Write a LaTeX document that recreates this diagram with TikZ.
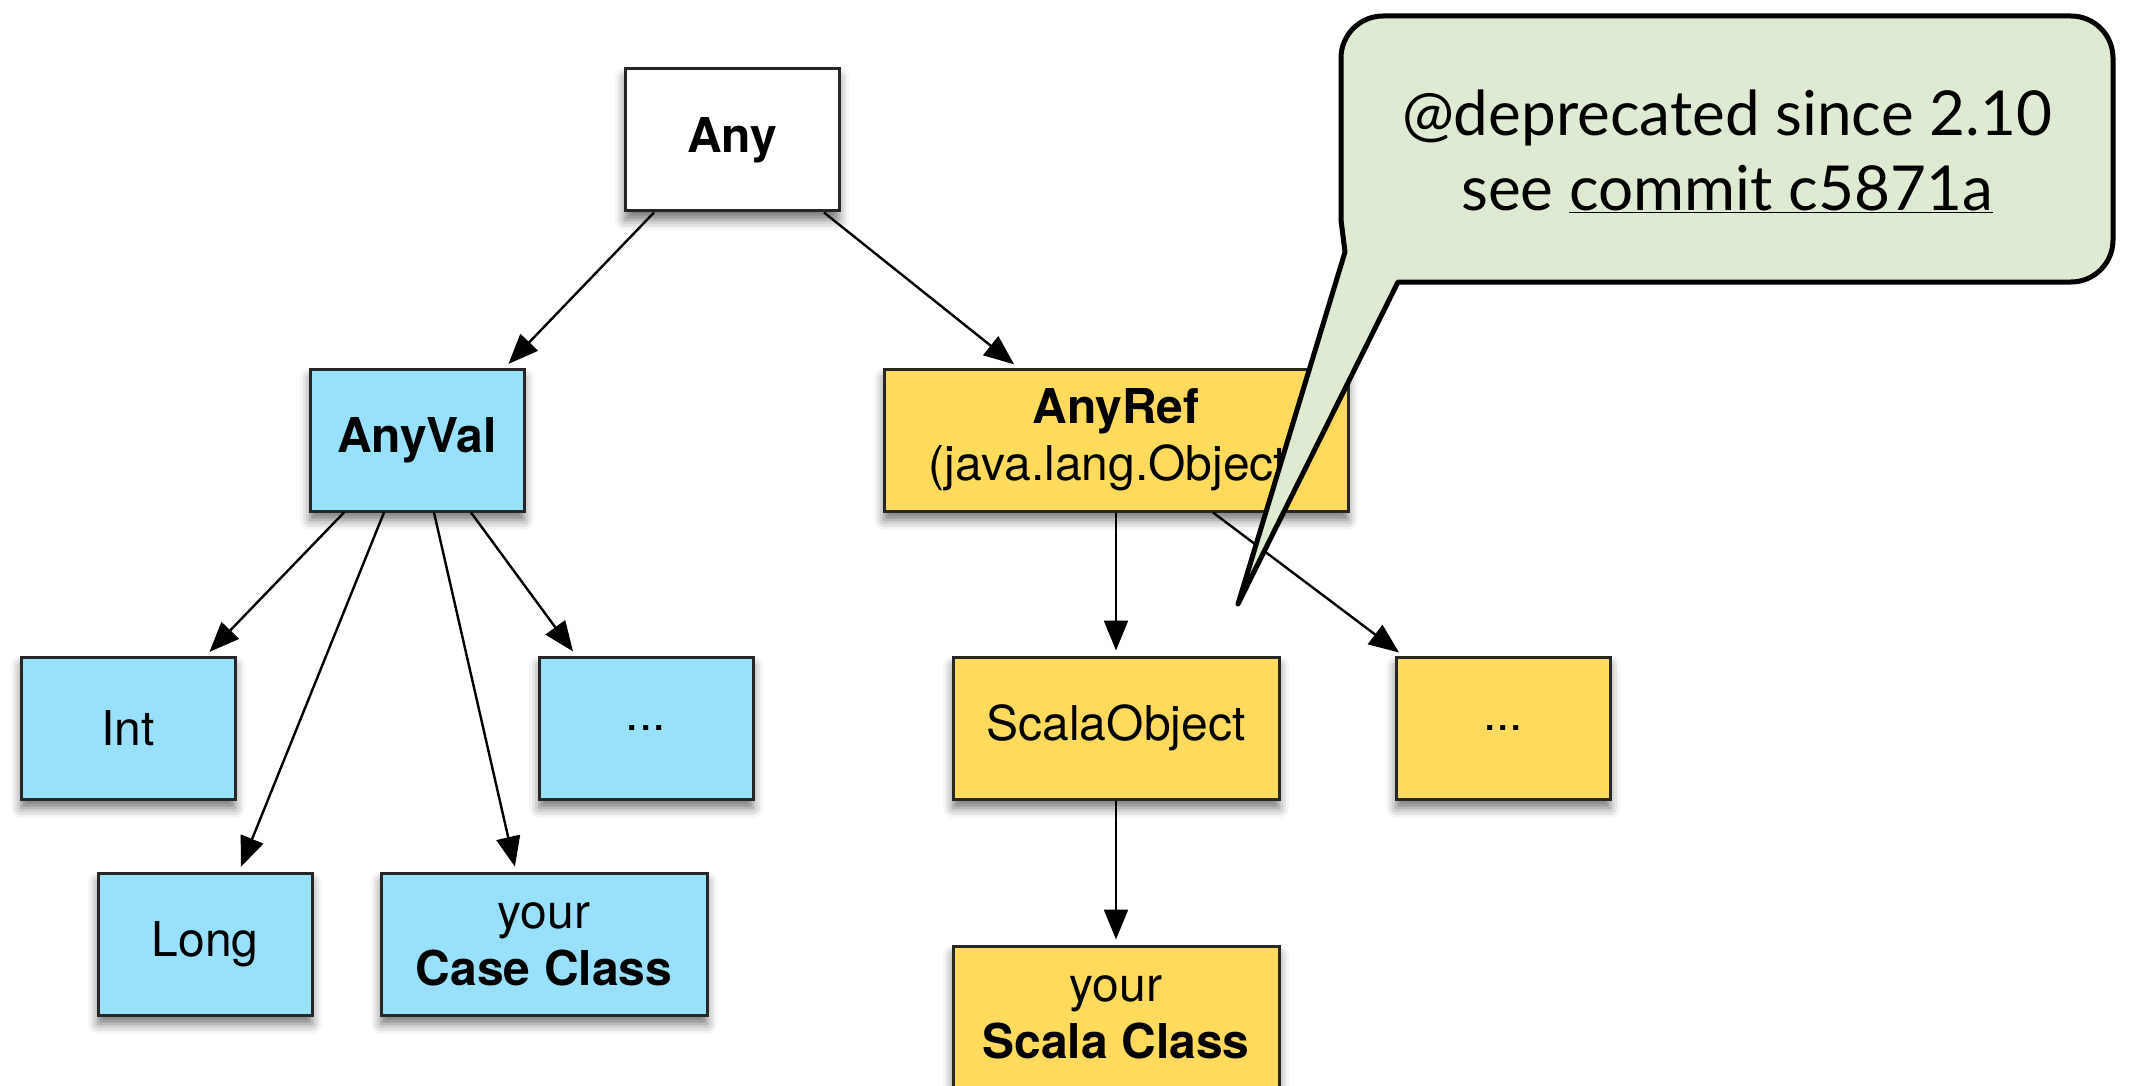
\documentclass[tikz,border=0pt]{standalone}
\usepackage{fontspec}
\setmainfont{TeX Gyre Heros}
\newfontfamily\notefont{Lato}
\usetikzlibrary{arrows.meta,shadows.blur,positioning,calc}
\definecolor{valblue}{RGB}{153,224,251}
\definecolor{refyellow}{RGB}{255,218,92}
\definecolor{notegreen}{RGB}{223,234,211}

\begin{document}
\begin{tikzpicture}[x=1pt,y=-1pt,
    every node/.append style={font=\fontsize{48}{57}\selectfont, align=center},
    box/.style={draw=black!85, line width=3pt, inner sep=0pt,
                minimum width=214pt, minimum height=142pt,
                blur shadow={shadow xshift=0pt, shadow yshift=-9pt,
                             shadow blur radius=10pt, shadow opacity=55}},
    valbox/.style={box, fill=valblue},
    refbox/.style={box, fill=refyellow},
    widebox/.style={minimum width=326pt},
    arr/.style={line width=2.4pt, -{Triangle[length=30pt,width=24pt]}, shorten >=5pt}]
    \useasboundingbox (0,0) rectangle (2129,1086);

    \node[box, fill=white] (any) at (732,140) {\textbf{Any}};
    \node[valbox] (anyval) at (417,440) {\textbf{AnyVal}};
    \node[refbox, minimum width=464pt] (anyref) at (1116,440)
        {\textbf{AnyRef}\\(java.lang.Object)};

    \node[valbox] (int) at (128,728) {Int};
    \node[valbox] (valmore) at (646,728) {...};
    \node[valbox] (long) at (205,944) {Long};
    \node[valbox, widebox] (caseclass) at (544,944) {your\\\textbf{Case Class}};

    \node[refbox, widebox] (scalaobj) at (1116,728) {ScalaObject};
    \node[refbox] (refmore) at (1503,728) {...};
    \node[refbox, widebox] (scalaclass) at (1116,1017) {your\\\textbf{Scala Class}};

    \draw[arr] ([xshift=-78pt]any.south) -- ([xshift=88pt]anyval.north);
    \draw[arr] ([xshift=92pt]any.south) -- ([xshift=-98pt]anyref.north);
    \draw[arr] ([xshift=-73pt]anyval.south) -- ([xshift=78pt]int.north);
    \draw[arr] ([xshift=-33pt]anyval.south) -- ([xshift=34pt]long.north);
    \draw[arr] ([xshift=17pt]anyval.south) -- ([xshift=-28pt]caseclass.north);
    \draw[arr] ([xshift=54pt]anyval.south) -- ([xshift=-70pt]valmore.north);
    \draw[arr] (anyref.south) -- (scalaobj.north);
    \draw[arr] ([xshift=97pt]anyref.south) -- ([xshift=-100pt]refmore.north);
    \draw[arr] (scalaobj.south) -- (scalaclass.north);

    % speech bubble with the note
    \coordinate (tip) at (1238,604);
    \draw[line width=5pt, fill=notegreen, line join=round]
        (tip) -- (1345,252) -- (1341,220) [rounded corners=42pt] -- (1341,16)
        -- (2113,16) -- (2113,282) -- (1460,282) [sharp corners] -- (1398,282)
        -- cycle;
    \node[font=\notefont\fontsize{62}{75}\selectfont] (note) at (1727,151)
        {@deprecated since 2.10\\see \underline{commit c5871a}};
\end{tikzpicture}
\end{document}
